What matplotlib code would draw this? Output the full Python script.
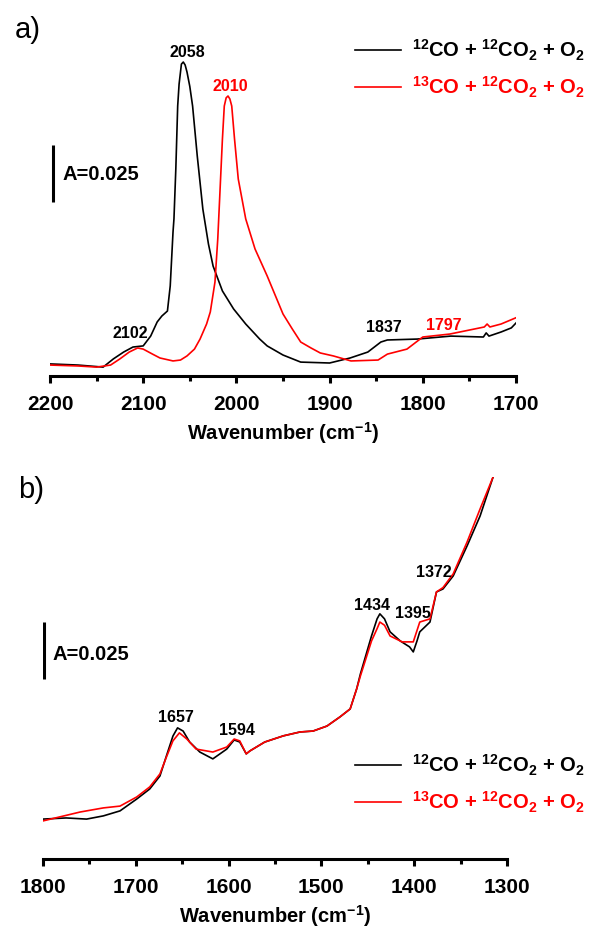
"""Two-panel IR spectra: 12CO vs 13CO co-adsorbed with 12CO2 + O2."""

import matplotlib

matplotlib.use("Agg")
import matplotlib.pyplot as plt  # noqa: E402

plt.rcParams["font.family"] = ["Liberation Sans", "DejaVu Sans"]
plt.rcParams["mathtext.fontset"] = "custom"
plt.rcParams["mathtext.rm"] = "Liberation Sans:bold"
plt.rcParams["mathtext.bf"] = "Liberation Sans:bold"
plt.rcParams["mathtext.it"] = "Liberation Sans:bold"
plt.rcParams["mathtext.default"] = "bf"

# panel a: 2200-1700 cm-1, absorbance in mA (baseline offset arbitrary)
wn_a_12 = [2200, 2170, 2143, 2132, 2121, 2111, 2100, 2092, 2085, 2080, 2074,
           2071, 2068, 2067, 2065, 2063, 2061.5, 2059, 2057, 2055, 2053, 2050,
           2047, 2042, 2036, 2030, 2025, 2015, 2003, 1990, 1975, 1967, 1950,
           1931, 1900, 1878, 1859, 1845, 1838, 1806, 1770, 1735, 1732, 1729,
           1716, 1705, 1698]
abs_a_12 = [5.3, 4.8, 3.9, 7.5, 10.5, 12.7, 13.2, 17.5, 23.7, 26.3, 28.5,
            39.5, 63.2, 68.9, 90.8, 118.4, 128.0, 136.8, 137.7, 136.4, 133.3,
            127.0, 118.4, 96.5, 73.2, 57.9, 48.2, 37.3, 29.4, 22.8, 16.2, 13.2,
            9.2, 6.1, 5.7, 7.9, 10.5, 14.9, 15.8, 16.2, 17.5, 17.1, 18.9, 17.5,
            19.3, 21.1, 24.1]

wn_a_13 = [2200, 2170, 2150, 2135, 2125, 2115, 2106, 2100, 2090, 2082, 2068,
           2060, 2053, 2045, 2039, 2032, 2028, 2023, 2020, 2018, 2015, 2013,
           2011, 2009, 2007, 2005, 2002, 1998, 1990, 1980, 1967, 1950, 1940,
           1931, 1920, 1910, 1896, 1877, 1848, 1838, 1817, 1800, 1771, 1734,
           1731, 1728, 1716, 1698]
abs_a_13 = [4.8, 4.4, 3.9, 4.8, 7.5, 10.5, 12.3, 11.8, 9.6, 7.9, 6.6,
            7.0, 8.8, 11.8, 16.2, 22.8, 28.1, 41.2, 60.1, 77.6, 103.9, 118.4,
            122.0, 122.8, 121.5, 118.4, 103.9, 86.4, 68.9, 55.7, 43.9, 27.2,
            20.6, 14.9, 12.3, 10.1, 8.8, 6.6, 7.0, 9.6, 11.8, 17.1, 18.4, 21.5,
            22.8, 21.5, 22.8, 25.9]

# panel b: 1800-1300 cm-1
wn_b_12 = [1800, 1775, 1753, 1735, 1717, 1699, 1685, 1674, 1667, 1660, 1655,
           1649, 1642, 1631, 1617, 1602, 1594, 1588, 1581, 1577, 1561, 1541,
           1523, 1509, 1494, 1480, 1469, 1462, 1458, 1446, 1440, 1437, 1432,
           1426, 1415, 1405, 1401, 1397, 1394, 1383, 1376, 1369, 1358, 1343,
           1329, 1315, 1310]
abs_b_12 = [17.5, 18.0, 17.5, 18.9, 21.1, 26.3, 30.7, 36.4, 45.2, 53.9, 57.5,
            56.1, 51.3, 46.9, 43.9, 48.2, 52.2, 51.3, 46.1, 47.4, 51.3, 54.0,
            55.7, 56.1, 58.3, 62.3, 65.8, 74.6, 81.1, 97.8, 105.3, 107.5, 105.3,
            99.6, 95.6, 93.0, 90.8, 95.6, 99.6, 103.9, 117.1, 118.4, 124.1,
            137.3, 150.4, 167.5, 175.0]

wn_b_13 = [1800, 1760, 1735, 1717, 1699, 1685, 1674, 1667, 1660, 1653, 1645,
           1635, 1617, 1602, 1594, 1588, 1581, 1577, 1561, 1541, 1523, 1509,
           1494, 1480, 1469, 1462, 1458, 1446, 1440, 1437, 1432, 1426, 1413,
           1401, 1394, 1383, 1376, 1369, 1358, 1343, 1329, 1315, 1310]
abs_b_13 = [16.7, 20.6, 22.4, 23.2, 27.2, 31.6, 37.3, 44.7, 51.8, 55.3, 52.6,
            48.2, 46.9, 49.1, 52.6, 51.8, 46.1, 47.4, 51.3, 54.0, 55.7, 56.1,
            58.3, 62.3, 65.8, 74.6, 80.2, 95.6, 101.0, 103.9, 102.5, 97.8,
            95.2, 95.2, 103.9, 105.3, 117.1, 119.0, 125.0, 139.0, 153.5, 167.5,
            176.0]

# peak labels: (wavenumber, height mA, text, color)
labels_a = [(2053, 142.1, "2058", "black"), (2006.5, 127.6, "2010", "red"),
            (2114, 18.9, "2102", "black"), (1842, 21.5, "1837", "black"),
            (1777, 22.4, "1797", "red")]
labels_b = [(1657, 62.7, "1657"), (1591, 57.0, "1594"), (1445, 111.4, "1434"),
            (1401, 107.9, "1395"), (1379, 125.9, "1372")]

LABEL_12 = r"$^{12}$CO + $^{12}$CO$_2$ + O$_2$"
LABEL_13 = r"$^{13}$CO + $^{12}$CO$_2$ + O$_2$"
SCALE_BAR = 25.0  # mA, i.e. A = 0.025


def style_axis(axis, xmax, xmin, ytop):
    axis.set_xlim(xmax, xmin)
    axis.set_ylim(0, ytop)
    axis.set_xticks(range(xmin, xmax + 1, 100))
    axis.set_xticks(range(xmin, xmax + 1, 50), minor=True)
    axis.tick_params(axis="x", which="major", length=5, width=2.2, pad=8,
                     labelsize=15)
    axis.tick_params(axis="x", which="minor", length=3.5, width=2.2)
    for tick in axis.get_xticklabels():
        tick.set_fontweight("bold")
    axis.set_yticks([])
    axis.spines[["top", "right", "left"]].set_visible(False)
    axis.spines["bottom"].set_linewidth(2.2)
    axis.set_xlabel(r"Wavenumber (cm$^{-1}$)", fontsize=14.5, fontweight="bold",
                    labelpad=4)


def add_legend(axis, handles, top_px):
    axis.legend(handles=handles, loc="upper left", frameon=False,
                bbox_to_anchor=(355 / 590, 1 - top_px / 929),
                bbox_transform=fig.transFigure,
                prop={"size": 14.5, "weight": "bold"}, labelcolor="linecolor",
                handlelength=2.3, handletextpad=0.55, labelspacing=0.6,
                borderpad=0, borderaxespad=0)


fig = plt.figure(figsize=(5.9, 9.29), dpi=100)

ax_a = fig.add_axes([50 / 590, 1 - 377 / 929, 466 / 590, 337 / 929])
line12, = ax_a.plot(wn_a_12, abs_a_12, color="black", lw=1.2, label=LABEL_12)
line13, = ax_a.plot(wn_a_13, abs_a_13, color="red", lw=1.2, label=LABEL_13)
style_axis(ax_a, 2200, 1700, 147.8)
for wn, height, text, color in labels_a:
    ax_a.text(wn, height, text, color=color, fontsize=11.5, fontweight="bold",
              ha="center", va="center")
ax_a.plot([2197, 2197], [76.3, 76.3 + SCALE_BAR], color="black", lw=2.2,
          solid_capstyle="butt")
ax_a.text(2187, 88.8, "A=0.025", fontsize=14.5, fontweight="bold",
          ha="left", va="center")
add_legend(ax_a, [line12, line13], 38)
fig.text(28 / 590, 1 - 30 / 929, "a)", fontsize=21, ha="center", va="center")

ax_b = fig.add_axes([43 / 590, 1 - 860 / 929, 464 / 590, 382 / 929])
line12b, = ax_b.plot(wn_b_12, abs_b_12, color="black", lw=1.2, label=LABEL_12)
line13b, = ax_b.plot(wn_b_13, abs_b_13, color="red", lw=1.2, label=LABEL_13)
style_axis(ax_b, 1800, 1300, 167.5)
for wn, height, text in labels_b:
    ax_b.text(wn, height, text, color="black", fontsize=11.5, fontweight="bold",
              ha="center", va="center")
ax_b.plot([1799, 1799], [79.0, 79.0 + SCALE_BAR], color="black", lw=2.2,
          solid_capstyle="butt")
ax_b.text(1790, 89.9, "A=0.025", fontsize=14.5, fontweight="bold",
          ha="left", va="center")
add_legend(ax_b, [line12b, line13b], 753)
fig.text(31 / 590, 1 - 490 / 929, "b)", fontsize=21, ha="center", va="center")

fig.savefig("out.png", dpi=100)
